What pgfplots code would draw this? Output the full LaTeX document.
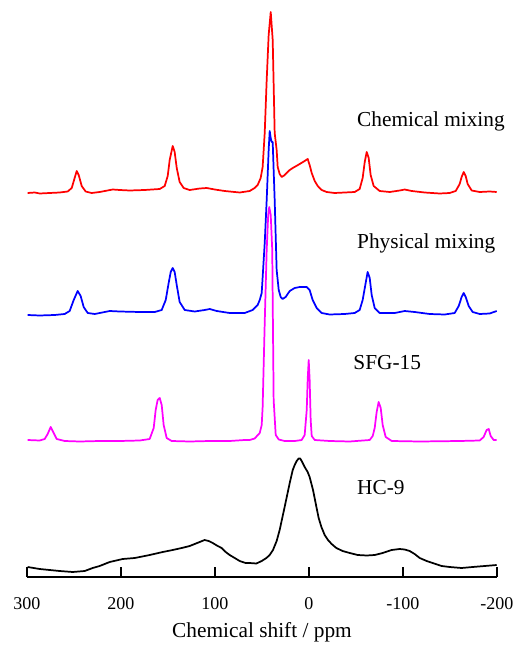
\documentclass[border=0pt]{standalone}
\usepackage{pgfplots}
\pgfplotsset{compat=1.18}
\usepackage{fontspec}
\setmainfont{Liberation Serif}
\definecolor{mag}{RGB}{255,0,255}
\definecolor{rd}{RGB}{255,0,0}
\definecolor{bl}{RGB}{0,0,255}
\begin{document}
\begin{tikzpicture}
\path[use as bounding box] (-20.25pt,-52.5pt) rectangle (363.75pt,432.75pt);
\begin{axis}[
  scale only axis, width=352.5pt, height=432.75pt,
  xmin=-200, xmax=300, x dir=reverse, ymin=0, ymax=577,
  axis x line=bottom, axis y line=none,
  x axis line style={-, line width=0.9pt},
  xtick={300,200,100,0,-100,-200},
  xticklabels={300,200,100,0,-100,-200},
  tick align=inside, major tick length=7.5pt,
  every tick/.style={black, line width=0.9pt},
  xticklabel style={font=\fontsize{13.5}{15}\selectfont, yshift=-12pt},
  xlabel={Chemical shift / ppm},
  every axis x label/.style={at={(axis description cs:0.5,0)}, yshift=-45.5pt, anchor=base, font=\fontsize{16}{18}\selectfont},
  clip=false,
  every axis plot/.append style={line width=1.3pt, line join=round, mark=none},
]
% Chemical mixing (red)
\addplot[color=rd] coordinates {
(299.3,384)(291.8,384.5)(286.5,383.5)(275.9,384)(265.2,384.5)(256.7,385.5)(252.4,389)(249.3,399)(247.1,406)(245.0,402)(241.8,391)(237.6,385.5)(231.2,384)(222.7,385)(208.8,387.5)(201.4,387)(190.7,386.5)(174.8,387)(158.8,388)(153.5,391)(150.3,401)(148.2,417)(145.0,431)(142.9,425)(140.7,409)(137.6,395)(133.3,389)(126.9,387)(116.3,388.5)(108.8,389)(100.3,387.5)(89.7,386)(73.7,384.5)(63.1,386)(57.8,389)(54.6,392)(51.4,399)(49.3,410)(47.1,444)(45.0,497)(42.9,542)(40.7,565)(38.6,537)(36.5,444)(34.4,427)(33.3,410)(31.2,403)(29.0,400)(26.5,401.5)(23.7,404)(20.5,407)(17.3,409)(13.5,411)(9.9,413)(4.6,416)(1.4,418)(-0.7,412)(-2.9,404)(-6.1,396)(-9.3,391)(-13.5,387)(-18.8,385)(-27.3,384)(-38.0,384.5)(-48.6,385)(-53.9,388)(-57.1,399)(-59.3,415)(-61.4,425)(-63.5,419)(-65.6,402)(-68.8,391)(-75.2,386)(-85.9,385)(-96.5,386.5)(-101.8,387.5)(-109.3,386)(-123.1,384.5)(-139.0,383.5)(-149.7,384)(-156.1,386)(-160.3,393)(-162.4,400)(-164.6,405)(-166.7,401)(-168.8,393)(-173.1,386.5)(-181.6,385)(-192.2,385.5)(-199.7,385)
};
% Physical mixing (blue)
\addplot[color=bl] coordinates {
(299.3,262)(286.5,261.5)(270.5,262)(259.9,263)(254.6,266)(250.3,277)(246.1,286)(242.9,281)(239.7,270)(235.4,264)(228.0,263)(212.0,266)(201.4,265.5)(180.1,265)(164.1,265)(156.7,267)(152.4,277)(149.3,294)(147.1,305)(145.0,309)(142.9,305)(140.7,292)(137.6,275)(132.2,267)(121.6,265.5)(111.0,267)(105.6,268)(98.2,266)(84.4,264)(68.4,264)(59.9,267)(54.6,272)(52.4,277)(50.3,284)(47.1,334)(45.0,377)(42.9,427)(41.8,446)(40.7,439)(39.7,435)(38.6,435)(37.6,407)(36.5,377)(34.4,307)(32.2,287)(30.1,280)(28.0,278)(24.8,280)(20.5,286)(15.2,289)(9.9,290)(2.4,290)(-0.7,287)(-3.9,277)(-8.2,269)(-13.5,264)(-21.9,262.5)(-38.0,263)(-48.6,264)(-53.9,267)(-57.1,277)(-60.3,294)(-62.4,305)(-64.6,299)(-66.7,282)(-69.9,269)(-75.2,264)(-91.2,264)(-101.8,266)(-112.4,265)(-128.4,263)(-144.4,262.5)(-155.0,264)(-159.3,271)(-162.4,280)(-164.6,284)(-166.7,280)(-169.9,271)(-174.1,265)(-181.6,263)(-192.2,263.5)(-199.7,266)
};
% SFG-15 (magenta)
\addplot[color=mag] coordinates {
(299.3,137)(286.5,136.5)(281.2,138)(278.0,143)(274.8,150)(271.6,144)(268.4,138)(259.9,136)(243.9,135.5)(222.7,136)(201.4,136)(180.1,136.5)(169.5,138)(165.2,149)(163.1,167)(161.0,177)(158.8,179)(156.7,172)(154.6,152)(151.4,139)(146.1,136)(126.9,135.5)(105.6,136)(84.4,136)(68.4,137)(63.1,137)(57.8,138.5)(52.4,144)(50.3,152)(49.3,170)(47.1,254)(45.0,327)(43.4,362)(42.3,370)(40.7,362)(39.1,327)(38.6,277)(37.6,177)(35.4,142)(32.2,137.5)(25.9,136)(15.2,136)(7.8,137)(4.6,142)(2.4,167)(1.4,197)(0.3,217)(-0.7,197)(-1.8,157)(-2.9,141)(-6.1,137)(-21.9,136)(-43.3,135.5)(-64.6,137)(-67.8,141)(-69.9,149)(-72.0,165)(-74.1,175)(-76.3,169)(-78.4,152)(-81.6,140)(-88.0,136)(-117.8,135.5)(-160.3,136)(-181.6,136.5)(-185.8,140)(-189.0,147)(-191.2,148)(-193.3,141)(-196.5,137)(-199.7,137)
};
% HC-9 (black)
\addplot[color=black] coordinates {
(299.3,10)(286.5,8)(275.9,7)(265.2,6)(251.4,5)(238.6,6)(230.1,9)(222.7,11)(212.0,15)(198.2,18)(185.4,19)(169.5,22)(155.6,25)(145.0,27)(135.4,29)(126.9,31)(116.3,35)(111.0,37)(106.7,36)(102.4,34)(97.1,31)(92.9,29)(88.6,25)(84.4,22)(79.0,19)(73.7,16)(67.3,14)(63.1,14)(56.0,13.5)(50.3,16)(45.3,19)(41.8,22)(38.3,27)(34.4,36)(31.2,47)(25.9,70)(20.5,94)(17.3,107)(15.2,112)(13.1,116)(11.0,118.5)(9.4,118.5)(7.8,116)(4.6,110)(1.4,105)(-0.7,100)(-4.3,87)(-7.9,70)(-10.3,59)(-13.2,50)(-16.7,42)(-20.2,37)(-24.1,33)(-29.1,29)(-35.8,26)(-43.3,24)(-51.8,22)(-61.4,21.5)(-69.9,22)(-78.4,24)(-88.0,27)(-96.5,28)(-101.8,27.5)(-107.1,26)(-112.4,23)(-117.8,19)(-125.2,16)(-131.6,14)(-141.2,11)(-149.7,10)(-162.4,9)(-174.1,10)(-186.9,11)(-199.7,12)
};
\node[anchor=west, inner sep=0pt, font=\fontsize{16}{18}\selectfont] at (axis cs:-51,456) {Chemical mixing};
\node[anchor=west, inner sep=0pt, font=\fontsize{16}{18}\selectfont] at (axis cs:-51,334) {Physical mixing};
\node[anchor=west, inner sep=0pt, font=\fontsize{16}{18}\selectfont] at (axis cs:-47,214) {SFG-15};
\node[anchor=west, inner sep=0pt, font=\fontsize{16}{18}\selectfont] at (axis cs:-51,89) {HC-9};
\end{axis}
\end{tikzpicture}
\end{document}
